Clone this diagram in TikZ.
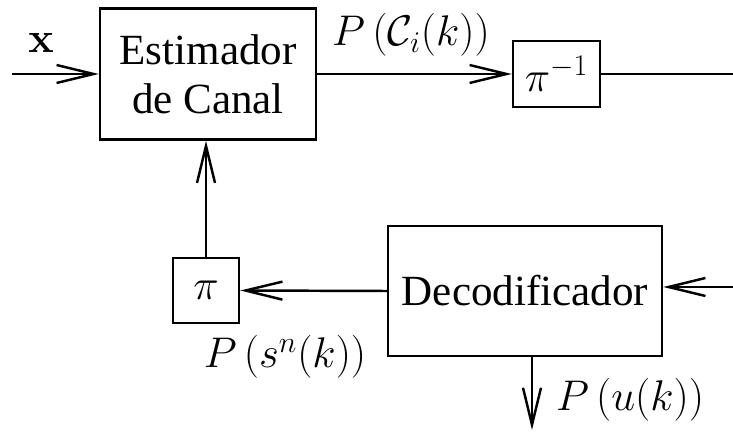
\RequirePackage{fix-cm}
\documentclass[tikz,border=0pt]{standalone}
\usepackage[no-math]{fontspec}
\setmainfont{Liberation Serif}
\usetikzlibrary{arrows.meta, positioning}

\begin{document}
\begin{tikzpicture}[
    >={Straight Barb[length=7.4mm, width=3.6mm]}, % long open arrow tips
    line width=1.4pt,
    block/.style={draw, align=center, inner sep=0pt, font=\fontsize{24.5}{28}\selectfont}, % boxes
    lbl/.style={font=\fontsize{24.4}{28}\selectfont} % math labels
]
    \useasboundingbox (0,0) rectangle (14.66,8.66);

    % Blocks
    \node[block, minimum width=4.32cm, minimum height=2.62cm] (est) at (4.16,7.18) {Estimador\\de Canal};
    \node[block, font=\fontsize{24.4}{28}\selectfont, minimum width=1.74cm, minimum height=1.32cm] (pinv) at (11.13,7.18) {$\pi^{-1}$};
    \node[block, font=\fontsize{24.4}{28}\selectfont, minimum width=1.32cm, minimum height=1.3cm] (pi) at (4.12,2.85) {$\pi$};
    \node[block, minimum width=5.48cm, minimum height=2.6cm] (dec) at (10.5,2.84) {Decodificador};

    % Free ends
    \coordinate (xin) at (0.24,7.18);
    \coordinate (pout) at (14.66,7.18);
    \coordinate (din) at (14.66,2.92);
    \coordinate (uout) at (10.64,0.06);

    % Connectors
    \draw[->] (xin) -- (est.west);
    \draw[->] (est.east) -- (pinv.west);
    \draw (pinv.east) -- (pout);
    \draw[->] (pi.north) -- (pi.north |- est.south);
    \draw[->] (dec.west) -- (pi.east);
    \draw[->] (din) -- (din -| dec.east);
    \draw[->] (dec.south -| uout) -- (uout);

    % Labels
    \node[lbl] (xlbl) at (0.82,7.8) {$\mathbf{x}$};
    \node[lbl] (clbl) at (8.22,7.96) {$P\left(\mathcal{C}_i(k)\right)$};
    \node[lbl] (slbl) at (5.7,1.52) {$P\left(s^n(k)\right)$};
    \node[lbl] (ulbl) at (12.6,0.66) {$P\left(u(k)\right)$};

\end{tikzpicture}
\end{document}
